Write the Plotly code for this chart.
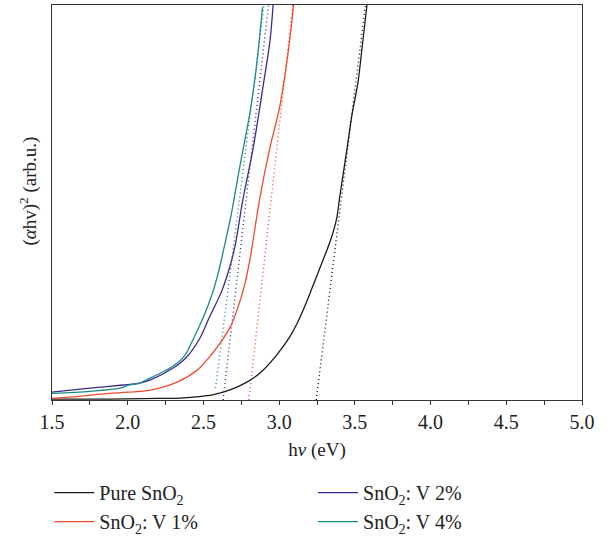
import plotly.graph_objects as go

# Tauc plot data: photon energy (eV) and (alpha*h*nu)^2 in arbitrary units
pure_e = [1.50, 1.80, 2.00, 2.20, 2.35, 2.45, 2.56, 2.68, 2.79, 2.84, 2.89, 2.94, 3.01, 3.07, 3.12, 3.17, 3.22, 3.28, 3.34, 3.38, 3.40, 3.45, 3.48, 3.52, 3.55, 3.58]
pure_y = [0.002, 0.002, 0.003, 0.004, 0.005, 0.008, 0.013, 0.026, 0.046, 0.058, 0.074, 0.094, 0.127, 0.160, 0.195, 0.238, 0.286, 0.345, 0.405, 0.460, 0.514, 0.641, 0.720, 0.803, 0.900, 1.0]

v1_e = [1.50, 1.70, 1.86, 2.08, 2.15, 2.33, 2.46, 2.54, 2.61, 2.68, 2.73, 2.775, 2.81, 2.87, 2.94, 3.00, 3.05, 3.085, 3.095]
v1_y = [0.004, 0.010, 0.016, 0.022, 0.025, 0.046, 0.076, 0.109, 0.144, 0.187, 0.237, 0.296, 0.362, 0.506, 0.640, 0.735, 0.853, 0.962, 1.0]

v2_e = [1.50, 1.75, 1.97, 2.08, 2.15, 2.30, 2.39, 2.48, 2.54, 2.62, 2.68, 2.71, 2.76, 2.83, 2.89, 2.94, 2.96]
v2_y = [0.020, 0.030, 0.038, 0.043, 0.051, 0.081, 0.109, 0.159, 0.210, 0.275, 0.345, 0.392, 0.506, 0.641, 0.785, 0.911, 1.0]

v4_e = [1.50, 1.75, 1.95, 2.00, 2.08, 2.15, 2.28, 2.37, 2.43, 2.50, 2.56, 2.60, 2.63, 2.68, 2.74, 2.81, 2.85, 2.89]
v4_y = [0.017, 0.022, 0.030, 0.037, 0.043, 0.056, 0.081, 0.109, 0.152, 0.210, 0.271, 0.325, 0.375, 0.463, 0.590, 0.734, 0.843, 0.995]

# Linear extrapolations of the absorption edges: band-gap intercept, start height and energy at the top of the frame
gap_e = [3.245, 2.80, 2.63, 2.57]
tangent_y0 = [0.0, 0.0, 0.0, 0.03]
tangent_top_e = [3.57, 3.09, 2.93, 2.90]

names = ["Pure SnO<sub>2</sub>", "SnO<sub>2</sub>: V 1%", "SnO<sub>2</sub>: V 2%", "SnO<sub>2</sub>: V 4%"]
colors = ["#1a1a1a", "#EF4A2B", "#3A2C92", "#1C8A84"]
legend_ids = ["legend", "legend", "legend2", "legend2"]

xs = [pure_e, v1_e, v2_e, v4_e]
ys = [pure_y, v1_y, v2_y, v4_y]

fig = go.Figure()

for i in range(4):
    # dotted edge extrapolation
    x0 = gap_e[i] + (tangent_top_e[i] - gap_e[i]) * tangent_y0[i]
    fig.add_trace(go.Scatter(
        x=[x0, tangent_top_e[i]], y=[tangent_y0[i], 1.0],
        mode="lines", line=dict(color=colors[i], width=1.4, dash="1px,3px"),
        showlegend=False, hoverinfo="skip"))

for i in range(4):
    fig.add_trace(go.Scatter(
        x=xs[i], y=ys[i], mode="lines", name=names[i],
        line=dict(color=colors[i], width=1.3, shape="spline", smoothing=0.9),
        legend=legend_ids[i]))

serif = "Liberation Serif, Times New Roman, serif"
fs = 19
legend_font = dict(family=serif, size=20, color="#222")

fig.update_layout(
    width=608, height=536,
    margin=dict(l=52, r=26, t=5, b=136, autoexpand=False),
    paper_bgcolor="white", plot_bgcolor="white",
    font=dict(family=serif, size=fs, color="#222"),
    showlegend=True,
    legend=dict(
        orientation="v", x=-0.005, y=-0.185, xanchor="left", yanchor="top",
        itemwidth=40, font=legend_font, tracegroupgap=0,
    ),
    legend2=dict(
        orientation="v", x=0.4925, y=-0.185, xanchor="left", yanchor="top",
        itemwidth=40, font=legend_font, tracegroupgap=0,
    ),
    xaxis=dict(
        range=[1.5, 5.0], tickmode="array",
        tickvals=[1.5, 1.75, 2.0, 2.25, 2.5, 2.75, 3.0, 3.25, 3.5, 3.75, 4.0, 4.25, 4.5, 4.75, 5.0],
        ticktext=["1.5", "", "2.0", "", "2.5", "", "3.0", "", "3.5", "", "4.0", "", "4.5", "", "5.0"],
        ticks="outside", ticklen=4, tickwidth=1, tickcolor="#333",
        showline=True, linecolor="#333", linewidth=1, mirror=True,
        showgrid=False, zeroline=False,
        title=dict(text="h<i>ν</i> (eV)", standoff=10, font=dict(family=serif, size=fs)),
        tickfont=dict(family=serif, size=20),
    ),
    yaxis=dict(
        range=[0, 1.0], showticklabels=False, ticks="",
        showline=True, linecolor="#333", linewidth=1, mirror=True,
        showgrid=False, zeroline=False,
    ),
    annotations=[dict(
        text="(<i>α</i>hv)<sup>2</sup> (arb.u.)", textangle=-90,
        xref="paper", yref="paper", x=-0.045, y=0.528,
        xanchor="center", yanchor="middle", showarrow=False,
        font=dict(family=serif, size=fs, color="#222"),
    )],
)

fig.write_html("out.html")
